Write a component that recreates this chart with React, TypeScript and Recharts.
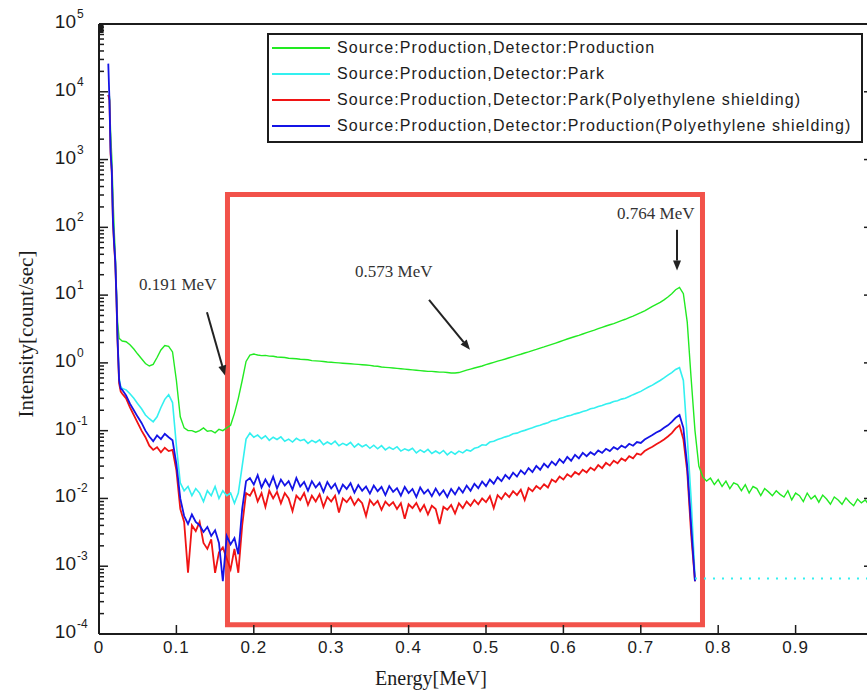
import { LineChart, Line, XAxis, YAxis, ReferenceArea, ReferenceLine, Legend } from 'recharts';

// energy grid [MeV]
const ENERGY = [
  0.012, 0.0135, 0.015, 0.0165, 0.018, 0.0195, 0.021, 0.0225, 0.024, 0.026, 0.028, 0.03,
  0.035, 0.04, 0.045, 0.05, 0.055, 0.06, 0.065, 0.07, 0.075, 0.08,
  0.085, 0.09, 0.095, 0.1, 0.105, 0.11, 0.115, 0.12, 0.125, 0.13,
  0.135, 0.14, 0.145, 0.15, 0.155, 0.16, 0.165, 0.17, 0.175, 0.18,
  0.185, 0.19, 0.195, 0.2, 0.205, 0.21, 0.215, 0.22, 0.225, 0.23,
  0.235, 0.24, 0.245, 0.25, 0.255, 0.26, 0.265, 0.27, 0.275, 0.28,
  0.285, 0.29, 0.295, 0.3, 0.305, 0.31, 0.315, 0.32, 0.325, 0.33,
  0.335, 0.34, 0.345, 0.35, 0.355, 0.36, 0.365, 0.37, 0.375, 0.38,
  0.385, 0.39, 0.395, 0.4, 0.405, 0.41, 0.415, 0.42, 0.425, 0.43,
  0.435, 0.44, 0.445, 0.45, 0.455, 0.46, 0.465, 0.47, 0.475, 0.48,
  0.485, 0.49, 0.495, 0.5, 0.505, 0.51, 0.515, 0.52, 0.525, 0.53,
  0.535, 0.54, 0.545, 0.55, 0.555, 0.56, 0.565, 0.57, 0.575, 0.58,
  0.585, 0.59, 0.595, 0.6, 0.605, 0.61, 0.615, 0.62, 0.625, 0.63,
  0.635, 0.64, 0.645, 0.65, 0.655, 0.66, 0.665, 0.67, 0.675, 0.68,
  0.685, 0.69, 0.695, 0.7, 0.705, 0.71, 0.715, 0.72, 0.725, 0.73,
  0.735, 0.74, 0.745, 0.75, 0.755, 0.76, 0.765, 0.77,
  0.775, 0.78, 0.785, 0.79, 0.795, 0.8, 0.805, 0.81, 0.815, 0.82,
  0.825, 0.83, 0.835, 0.84, 0.845, 0.85, 0.855, 0.86, 0.865, 0.87,
  0.875, 0.88, 0.885, 0.89, 0.895, 0.9, 0.905, 0.91, 0.915, 0.92,
  0.925, 0.93, 0.935, 0.94, 0.945, 0.95, 0.955, 0.96, 0.965, 0.97,
  0.975, 0.98, 0.985, 0.99, 0.995, 1.0,
];

// Source:Production, Detector:Production  [count/sec]
const PROD_PROD = [
  9000, 8500, 2500, 1100, 300, 100, 40, 12, 4, 2.3, 2.2, 2.1,
  2.05, 1.85, 1.6, 1.35, 1.15, 0.98, 0.9, 0.95, 1.2, 1.55,
  1.8, 1.75, 1.45, 0.55, 0.16, 0.11, 0.1, 0.1, 0.095, 0.1,
  0.11, 0.098, 0.1, 0.093, 0.105, 0.1, 0.11, 0.12, 0.18, 0.3,
  0.55, 1.05, 1.3, 1.35, 1.31, 1.28, 1.29, 1.26, 1.25, 1.22,
  1.21, 1.2, 1.17, 1.16, 1.15, 1.13, 1.12, 1.11, 1.08, 1.07,
  1.06, 1.05, 1.03, 1.02, 1.01, 1.0, 0.99, 0.98, 0.97, 0.96,
  0.95, 0.94, 0.93, 0.92, 0.9, 0.89, 0.87, 0.86, 0.85, 0.84,
  0.83, 0.82, 0.81, 0.8, 0.79, 0.78, 0.77, 0.76, 0.75, 0.75,
  0.74, 0.73, 0.73, 0.72, 0.71, 0.71, 0.72, 0.75, 0.78, 0.81,
  0.84, 0.87, 0.9, 0.94, 0.98, 1.02, 1.06, 1.1, 1.14, 1.19,
  1.24, 1.29, 1.34, 1.4, 1.45, 1.52, 1.58, 1.65, 1.72, 1.8,
  1.88, 1.96, 2.05, 2.15, 2.25, 2.35, 2.45, 2.55, 2.67, 2.8,
  2.92, 3.05, 3.2, 3.35, 3.5, 3.65, 3.8, 4.0, 4.2, 4.4,
  4.65, 4.9, 5.2, 5.5, 5.85, 6.3, 6.8, 7.3, 7.8, 8.5,
  9.4, 10.5, 12, 13, 10.5, 4, 0.6, 0.1,
  0.03, 0.021, 0.018, 0.02, 0.016, 0.019, 0.015, 0.018, 0.014, 0.017,
  0.016, 0.013, 0.016, 0.012, 0.015, 0.014, 0.011, 0.014, 0.0125, 0.011,
  0.013, 0.0115, 0.0105, 0.013, 0.0095, 0.012, 0.011, 0.009, 0.012, 0.0098,
  0.011, 0.0088, 0.0112, 0.0098, 0.0082, 0.0105, 0.0095, 0.0082, 0.0102, 0.0088,
  0.0078, 0.0098, 0.0086, 0.0095, 0.008, 0.0092,
];

// Source:Production, Detector:Park
const PROD_PARK = [
  9000, 8000, 1500, 700, 150, 60, 35, 10, 2.5, 0.6, 0.45, 0.42,
  0.4, 0.35, 0.3, 0.25, 0.21, 0.17, 0.15, 0.135, 0.16, 0.22,
  0.29, 0.34, 0.26, 0.06, 0.017, 0.013, 0.015, 0.011, 0.014, 0.012,
  0.009, 0.013, 0.011, 0.015, 0.01, 0.013, 0.011, 0.012, 0.0085, 0.012,
  0.03, 0.075, 0.092, 0.08, 0.086, 0.076, 0.084, 0.072, 0.08, 0.074,
  0.081, 0.07, 0.075, 0.068, 0.077, 0.071, 0.074, 0.065, 0.072, 0.067,
  0.073, 0.062, 0.068, 0.063, 0.07, 0.06, 0.065, 0.061, 0.067, 0.057,
  0.064, 0.058, 0.062, 0.055, 0.061, 0.054, 0.06, 0.052, 0.057, 0.053,
  0.058, 0.05, 0.054, 0.051, 0.055, 0.047, 0.052, 0.048, 0.053, 0.046,
  0.05, 0.046, 0.051, 0.044, 0.049, 0.045, 0.05, 0.047, 0.052, 0.05,
  0.055, 0.057, 0.062, 0.061, 0.068, 0.07, 0.074, 0.077, 0.081, 0.084,
  0.09, 0.092, 0.097, 0.101, 0.106, 0.11, 0.116, 0.12, 0.126, 0.131,
  0.14, 0.143, 0.151, 0.156, 0.164, 0.169, 0.177, 0.183, 0.192, 0.199,
  0.21, 0.216, 0.227, 0.235, 0.247, 0.255, 0.269, 0.277, 0.292, 0.301,
  0.32, 0.34, 0.36, 0.38, 0.41, 0.44, 0.47, 0.51, 0.55, 0.6,
  0.66, 0.72, 0.8, 0.85, 0.55, 0.08, 0.01, 0.0007,
];

// Source:Production, Detector:Park (Polyethylene shielding)
const PROD_PARK_PE = [
  9000, 7500, 1200, 650, 120, 55, 30, 9, 2, 0.5, 0.38, 0.35,
  0.3, 0.22, 0.17, 0.13, 0.1, 0.08, 0.06, 0.052, 0.057, 0.048,
  0.056, 0.05, 0.052, 0.026, 0.007, 0.0045, 0.0008, 0.004, 0.0033, 0.0045,
  0.0022, 0.0018, 0.0025, 0.0008, 0.0016, 0.0019, 0.0013, 0.0009, 0.0018, 0.0008,
  0.004, 0.012, 0.011, 0.014, 0.009, 0.012, 0.0075, 0.013, 0.01, 0.0125,
  0.0085, 0.012, 0.01, 0.0065, 0.011, 0.0095, 0.012, 0.008, 0.011, 0.009,
  0.0115, 0.0075, 0.0105, 0.009, 0.011, 0.0062, 0.01, 0.0088, 0.0105, 0.008,
  0.0098, 0.0085, 0.0055, 0.0095, 0.008, 0.0092, 0.0068, 0.009, 0.0078, 0.0088,
  0.007, 0.0085, 0.005, 0.0082, 0.0072, 0.0086, 0.0065, 0.008, 0.0058, 0.0078,
  0.007, 0.0042, 0.0075, 0.0068, 0.008, 0.006, 0.0085, 0.0072, 0.009, 0.0078,
  0.0095, 0.0082, 0.01, 0.0088, 0.0108, 0.0072, 0.0112, 0.0098, 0.012, 0.0105,
  0.0128, 0.0112, 0.0135, 0.0095, 0.0142, 0.0128, 0.0152, 0.0138, 0.0162, 0.0145,
  0.019, 0.0175, 0.021, 0.019, 0.0228, 0.0208, 0.0245, 0.0225, 0.0265, 0.0242,
  0.0285, 0.026, 0.031, 0.028, 0.0335, 0.0305, 0.036, 0.033, 0.039, 0.036,
  0.042, 0.039, 0.046, 0.044, 0.05, 0.054, 0.058, 0.063, 0.068, 0.074,
  0.082, 0.092, 0.108, 0.12, 0.075, 0.025, 0.003, 0.0006,
];

// Source:Production, Detector:Production (Polyethylene shielding)
const PROD_PROD_PE = [
  26000, 7500, 1300, 700, 130, 60, 32, 10, 2.2, 0.55, 0.42, 0.4,
  0.33, 0.25, 0.2, 0.16, 0.13, 0.1, 0.082, 0.07, 0.085, 0.075,
  0.09, 0.08, 0.072, 0.032, 0.01, 0.0055, 0.0042, 0.0058, 0.0045, 0.004,
  0.0032, 0.0038, 0.0028, 0.0034, 0.0022, 0.0006, 0.0028, 0.0021, 0.0026, 0.0015,
  0.007, 0.018, 0.02, 0.016, 0.022, 0.0145, 0.019, 0.015, 0.021, 0.014,
  0.019, 0.0155, 0.018, 0.0135, 0.02, 0.015, 0.0175, 0.013, 0.018, 0.0145,
  0.017, 0.0125, 0.0175, 0.014, 0.0165, 0.012, 0.016, 0.0138, 0.0168, 0.0122,
  0.0158, 0.013, 0.015, 0.0118, 0.0155, 0.0128, 0.0148, 0.0112, 0.0152, 0.0125,
  0.0142, 0.011, 0.0148, 0.012, 0.0138, 0.0105, 0.0145, 0.0118, 0.0135, 0.0108,
  0.014, 0.0112, 0.0132, 0.0105, 0.0138, 0.0115, 0.0145, 0.0122, 0.0155, 0.013,
  0.0165, 0.0142, 0.0178, 0.0152, 0.019, 0.0165, 0.0205, 0.018, 0.0222, 0.0195,
  0.024, 0.021, 0.026, 0.0228, 0.028, 0.0245, 0.0302, 0.0265, 0.0325, 0.0288,
  0.035, 0.031, 0.038, 0.0335, 0.041, 0.036, 0.044, 0.039, 0.047, 0.042,
  0.048, 0.044, 0.051, 0.047, 0.054, 0.05, 0.057, 0.053, 0.06, 0.056,
  0.064, 0.06, 0.068, 0.066, 0.074, 0.08, 0.086, 0.094, 0.1, 0.11,
  0.12, 0.135, 0.155, 0.17, 0.11, 0.03, 0.004, 0.0006,
];

// sparse floor counts of the Park detector past the edge
const PARK_FLOOR_FROM = 0.77;
const PARK_FLOOR = 0.00066;

const X_TICKS = [0, 0.1, 0.2, 0.3, 0.4, 0.5, 0.6, 0.7, 0.8, 0.9, 1];
const DECADES = [1e-4, 1e-3, 1e-2, 1e-1, 1, 1e1, 1e2, 1e3, 1e4, 1e5];
const MINOR_STEPS = [2, 3, 4, 5, 6, 7, 8, 9];

const SERIES = [
  { key: 'prodProd', name: 'Source:Production,Detector:Production', color: '#22ea22', width: 1.4, values: PROD_PROD },
  { key: 'prodPark', name: 'Source:Production,Detector:Park', color: '#33f0f0', width: 1.6, values: PROD_PARK },
  { key: 'prodParkPE', name: 'Source:Production,Detector:Park(Polyethylene shielding)', color: '#f01414', width: 1.8, values: PROD_PARK_PE },
  { key: 'prodProdPE', name: 'Source:Production,Detector:Production(Polyethylene shielding)', color: '#1414e6', width: 1.8, values: PROD_PROD_PE },
];

// peak annotations: arrow from -> to in data units, text offset in px from arrow start
const NOTES = [
  { label: '0.191 MeV', from: [0.1395, 5.6], to: [0.1628, 0.65], dx: -68, dy: -22 },
  { label: '0.573 MeV', from: [0.4264, 8.5], to: [0.4793, 1.56], dx: -74, dy: -23 },
  { label: '0.764 MeV', from: [0.7468, 92], to: [0.7468, 23], dx: -60, dy: -11 },
];

// highlighted region
const BOX = { x1: 0.166, x2: 0.7797, y1: 1.37e-4, y2: 305 };

const SANS = "'Liberation Sans Narrow', 'Arial Narrow', 'Liberation Sans', Arial, sans-serif";
const SERIF = "'Liberation Serif', 'Times New Roman', serif";
const INK = '#1c1c1c';

const Y_TICKS = DECADES.flatMap((d) => (d < 1e5 ? [d, ...MINOR_STEPS.map((m) => m * d)] : [d]));

const data = ENERGY.map((e, i) => {
  const row: Record<string, number | null> = { energy: e };
  SERIES.forEach((s) => {
    row[s.key] = i < s.values.length ? s.values[i] : null;
  });
  row.parkFloor = e >= PARK_FLOOR_FROM ? PARK_FLOOR : null;
  return row;
});

function isDecade(v: number) {
  const l = Math.log10(v);
  return Math.abs(l - Math.round(l)) < 1e-6;
}

function LeftTick({ x, y, payload }: any) {
  const v = payload.value;
  const major = isDecade(v);
  const exp = Math.round(Math.log10(v));
  return (
    <g>
      <line x1={x} x2={x + (major ? 9 : 5)} y1={y} y2={y} stroke={INK} strokeWidth={1.5} />
      {major && (
        <>
          <text x={x - 23} y={y + 4} textAnchor="end" fontSize={19} fontFamily={SANS} fill={INK}>10</text>
          <text x={x - 22} y={y - 6} fontSize={12} fontFamily={SANS} fill={INK}>{String(exp)}</text>
        </>
      )}
    </g>
  );
}

function RightTick({ x, y, payload }: any) {
  const major = isDecade(payload.value);
  return <line x1={x} x2={x - (major ? 9 : 5)} y1={y} y2={y} stroke={INK} strokeWidth={1.5} />;
}

function BottomTick({ x, y, payload }: any) {
  return (
    <g>
      <line x1={x} x2={x} y1={y} y2={y - 9} stroke={INK} strokeWidth={1.5} />
      {payload.value < 1 && (
        <text x={x} y={y + 19} textAnchor="middle" fontSize={17} letterSpacing={1} fontFamily={SANS} fill={INK}>
          {String(payload.value)}
        </text>
      )}
    </g>
  );
}

function TopTick({ x, y }: any) {
  return <line x1={x} x2={x} y1={y} y2={y + 9} stroke={INK} strokeWidth={1.5} />;
}

function XTitle() {
  return (
    <text x={431} y={685} textAnchor="middle" fontSize={20} fontFamily={SERIF} fill={INK}>Energy[MeV]</text>
  );
}

function YTitle() {
  return (
    <text x={26} y={334} transform="rotate(-90, 26, 334)" textAnchor="middle" dominantBaseline="central" fontSize={21} fontFamily={SERIF} fill={INK}>
      Intensity[count/sec]
    </text>
  );
}

function arrowShape(label: string, dx: number, dy: number) {
  return (props: any) => {
    const { x1, y1, x2, y2 } = props;
    const a = Math.atan2(y2 - y1, x2 - x1);
    const len = 10;
    const w = 4;
    const bx = x2 - len * Math.cos(a);
    const by = y2 - len * Math.sin(a);
    const pts = `${x2},${y2} ${bx - w * Math.sin(a)},${by + w * Math.cos(a)} ${bx + w * Math.sin(a)},${by - w * Math.cos(a)}`;
    return (
      <g>
        <line x1={x1} y1={y1} x2={bx} y2={by} stroke="#222" strokeWidth={2} />
        <polygon points={pts} fill="#222" />
        <text x={x1 + dx} y={y1 + dy} fontSize={17} fontFamily={SERIF} fill="#333">{label}</text>
      </g>
    );
  };
}

function LegendBox() {
  return (
    <div style={{ width: 596, height: 110, boxSizing: 'border-box', border: `2px solid ${INK}`, background: '#fff' }}>
      {SERIES.map((s) => (
        <div key={s.key} style={{ display: 'flex', alignItems: 'center', height: 26 }}>
          <div style={{ width: 58, borderTop: `2px solid ${s.color}`, marginLeft: 3, marginRight: 7 }} />
          <span style={{ fontFamily: SANS, fontSize: 16, letterSpacing: 1.1, color: INK, whiteSpace: 'nowrap' }}>{s.name}</span>
        </div>
      ))}
    </div>
  );
}

export default function App() {
  return (
    <div style={{ position: 'fixed', left: 0, top: 0, width: 867, height: 694, overflow: 'hidden', background: '#fff' }}>
      <LineChart width={880} height={694} data={data} margin={{ top: 19, right: 2, bottom: 20, left: 39 }}>
        <XAxis
          dataKey="energy"
          type="number"
          domain={[0, 1]}
          ticks={X_TICKS}
          interval={0}
          tickSize={0}
          tickMargin={0}
          height={40}
          axisLine={{ stroke: INK, strokeWidth: 2 }}
          tick={BottomTick}
          label={<XTitle />}
        />
        <XAxis
          xAxisId="top"
          orientation="top"
          type="number"
          domain={[0, 1]}
          ticks={X_TICKS}
          interval={0}
          tickSize={0}
          tickMargin={0}
          height={5}
          axisLine={{ stroke: INK, strokeWidth: 2 }}
          tick={TopTick}
        />
        <YAxis
          type="number"
          scale="log"
          domain={[1e-4, 1e5]}
          allowDataOverflow
          ticks={Y_TICKS}
          interval={0}
          tickSize={0}
          tickMargin={0}
          width={60}
          axisLine={{ stroke: INK, strokeWidth: 2 }}
          tick={LeftTick}
          label={<YTitle />}
        />
        <YAxis
          yAxisId="right"
          orientation="right"
          type="number"
          scale="log"
          domain={[1e-4, 1e5]}
          allowDataOverflow
          ticks={Y_TICKS}
          interval={0}
          tickSize={0}
          tickMargin={0}
          width={5}
          axisLine={{ stroke: INK, strokeWidth: 2 }}
          tick={RightTick}
        />
        <Legend
          layout="horizontal"
          verticalAlign="middle"
          align="center"
          wrapperStyle={{ left: 267, top: 33, width: 596, height: 110 }}
          content={() => <LegendBox />}
        />
        {SERIES.map((s) => (
          <Line
            key={s.key}
            dataKey={s.key}
            name={s.name}
            stroke={s.color}
            strokeWidth={s.width}
            dot={false}
            type="linear"
            isAnimationActive={false}
          />
        ))}
        <Line
          dataKey="parkFloor"
          stroke="#33f0f0"
          strokeWidth={2}
          strokeDasharray="2 7"
          dot={false}
          legendType="none"
          isAnimationActive={false}
        />
        {NOTES.map((n) => (
          <ReferenceLine
            key={n.label}
            segment={[{ x: n.from[0], y: n.from[1] }, { x: n.to[0], y: n.to[1] }]}
            shape={arrowShape(n.label, n.dx, n.dy)}
          />
        ))}
        <ReferenceArea
          x1={BOX.x1}
          x2={BOX.x2}
          y1={BOX.y1}
          y2={BOX.y2}
          fill="none"
          fillOpacity={0}
          stroke="#f2524a"
          strokeWidth={5}
        />
      </LineChart>
    </div>
  );
}
